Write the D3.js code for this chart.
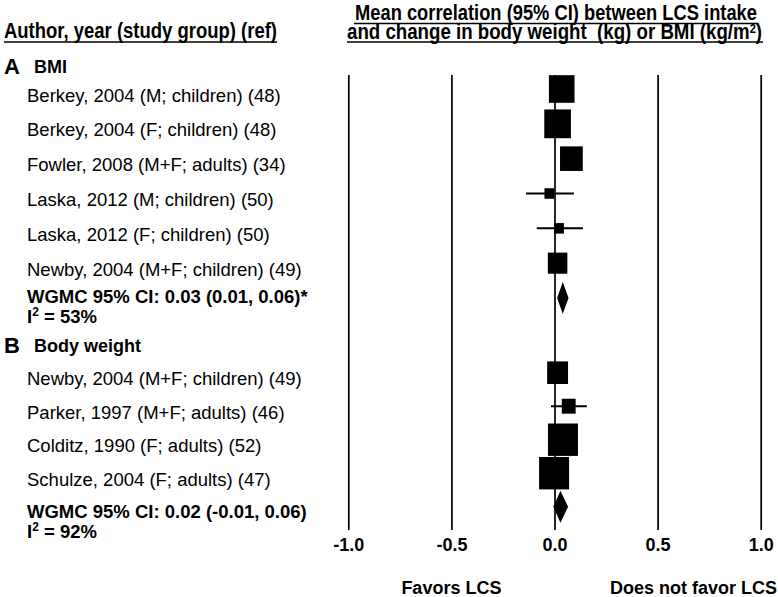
<!DOCTYPE html>
<html>
<head>
<meta charset="utf-8">
<script src="https://cdn.jsdelivr.net/npm/d3@7"></script>
<style>
body { margin:0; background:#fff; }
svg text { font-family: "Liberation Sans", Arial, sans-serif; fill:#000; }
.narrow { font-family: "Liberation Sans Narrow", "Arial Narrow", "Liberation Sans", Arial, sans-serif; font-weight:bold; white-space:pre; }
</style>
</head>
<body>
<svg id="vis" width="778" height="597"></svg>
<script>
// section A: BMI
var studiesA = ["Berkey, 2004 (M; children) (48)", "Berkey, 2004 (F; children) (48)",
  "Fowler, 2008 (M+F; adults) (34)", "Laska, 2012 (M; children) (50)",
  "Laska, 2012 (F; children) (50)", "Newby, 2004 (M+F; children) (49)"];
var meanA = [0.035, 0.015, 0.082, -0.025, 0.022, 0.015];
var lowA  = [0.01, -0.01, 0.05, -0.138, -0.086, -0.01];
var highA = [0.06, 0.04, 0.11, 0.094, 0.138, 0.045];
var weightA = [24, 26, 19, 3.5, 3.5, 14];
var summaryA = [0.013, 0.04, 0.068];
var summaryTextA = "WGMC 95% CI: 0.03 (0.01, 0.06)*";
var i2A = "53%";

// section B: body weight
var studiesB = ["Newby, 2004 (M+F; children) (49)", "Parker, 1997 (M+F; adults) (46)",
  "Colditz, 1990 (F; adults) (52)", "Schulze, 2004 (F; adults) (47)"];
var meanB = [0.015, 0.069, 0.041, -0.002];
var lowB  = [-0.01, -0.017, 0.0, -0.04];
var highB = [0.045, 0.157, 0.08, 0.04];
var weightB = [16, 7, 33, 33];
var summaryB = [-0.006, 0.029, 0.066];
var summaryTextB = "WGMC 95% CI: 0.02 (-0.01, 0.06)";
var i2B = "92%";

var ticks = [-1, -0.5, 0, 0.5, 1];

var svg = d3.select("svg#vis");
var x = d3.scaleLinear().domain([-1, 1]).range([348.3, 760.7]);
var size = d3.scaleSqrt().domain([0, 33]).range([0, 30]);
var plotTop = 75, plotBottom = 530;

// axis with full-height grid lines
var axis = d3.axisBottom(x).tickValues(ticks).tickFormat(function(d) { return d.toFixed(1); })
  .tickSizeInner(-(plotBottom - plotTop)).tickSizeOuter(0).tickPadding(8);
var ax = svg.append("g").attr("transform", "translate(0," + plotBottom + ")").call(axis);
ax.select(".domain").remove();
ax.selectAll(".tick line").attr("stroke", "#000").attr("stroke-width", 1.7);
ax.selectAll(".tick text").attr("y", 21).attr("dy", null)
  .style("font-family", "'Liberation Sans', Arial, sans-serif")
  .style("font-size", "18px").style("font-weight", "bold").attr("fill", "#000");

// headers
svg.append("text").attr("class", "narrow").attr("x", 4).attr("y", 38)
  .attr("textLength", 273).attr("lengthAdjust", "spacingAndGlyphs")
  .style("font-size", "22px").text("Author, year (study group) (ref)");
svg.append("line").attr("x1", 4).attr("x2", 277).attr("y1", 42).attr("y2", 42)
  .attr("stroke", "#000").attr("stroke-width", 1.5);

svg.append("text").attr("class", "narrow").attr("x", 355).attr("y", 19.5)
  .attr("textLength", 402).attr("lengthAdjust", "spacingAndGlyphs")
  .style("font-size", "22px").text("Mean correlation (95% CI) between LCS intake");
svg.append("line").attr("x1", 354).attr("x2", 758).attr("y1", 23.5).attr("y2", 23.5)
  .attr("stroke", "#000").attr("stroke-width", 1.5);
var t2 = svg.append("text").attr("class", "narrow").attr("x", 347).attr("y", 38.5)
  .attr("textLength", 415).attr("lengthAdjust", "spacingAndGlyphs")
  .style("font-size", "22px");
t2.append("tspan").text("and change in body weight  (kg) or BMI (kg/m");
t2.append("tspan").attr("dy", -6).style("font-size", "13px").text("2");
t2.append("tspan").attr("dy", 6).text(")");
svg.append("line").attr("x1", 347).attr("x2", 763).attr("y1", 42).attr("y2", 42)
  .attr("stroke", "#000").attr("stroke-width", 1.5);

function section(letter, title, headY, studies, mean, low, high, weight, summary, sumText, i2, range, sumTextY) {
  svg.append("text").attr("x", 4).attr("y", headY + 8).style("font-size", "22px")
    .style("font-weight", "bold").text(letter);
  svg.append("text").attr("x", 34).attr("y", headY + 6.5).style("font-size", "18px")
    .style("font-weight", "bold").text(title);

  var y = d3.scaleLinear().domain([0, studies.length]).range(range);
  var rows = studies.map(function(s, i) {
    return {label: s, mean: mean[i], low: low[i], high: high[i], w: weight[i], i: i};
  });
  var g = svg.append("g");
  g.selectAll("text.study").data(rows).enter().append("text")
    .attr("class", "study").attr("x", 27).attr("y", function(d) { return y(d.i) + 12.5; })
    .style("font-size", "18.5px").text(function(d) { return d.label; });
  g.selectAll("line.ci").data(rows).enter().append("line")
    .attr("x1", function(d) { return x(d.low); }).attr("x2", function(d) { return x(d.high); })
    .attr("y1", function(d) { return y(d.i); }).attr("y2", function(d) { return y(d.i); })
    .attr("stroke", "#000").attr("stroke-width", 2);
  g.selectAll("rect").data(rows).enter().append("rect")
    .attr("x", function(d) { return x(d.mean) - size(d.w) / 2; })
    .attr("y", function(d) { return y(d.i) - size(d.w) * 0.54; })
    .attr("width", function(d) { return size(d.w); })
    .attr("height", function(d) { return size(d.w) * 1.08; })
    .attr("fill", "#000");

  var sy = y(studies.length);
  var pts = [[x(summary[0]), sy], [x(summary[1]), sy - 16], [x(summary[2]), sy], [x(summary[1]), sy + 16]];
  g.append("path").attr("d", d3.line()(pts) + "Z").attr("fill", "#000");

  svg.append("text").attr("x", 27).attr("y", sumTextY).style("font-size", "18.5px")
    .style("font-weight", "bold").text(sumText);
  var it = svg.append("text").attr("x", 27).attr("y", sumTextY + 20).style("font-size", "18.5px")
    .style("font-weight", "bold");
  it.append("tspan").text("I");
  it.append("tspan").attr("dy", -7).style("font-size", "12px").text("2");
  it.append("tspan").attr("dy", 7).text(" = " + i2);
}

section("A", "BMI", 66, studiesA, meanA, lowA, highA, weightA, summaryA, summaryTextA, i2A, [89, 298], 303);
section("B", "Body weight", 345, studiesB, meanB, lowB, highB, weightB, summaryB, summaryTextB, i2B, [372.7, 506.7], 518);

// direction labels
svg.append("text").attr("x", x(-0.5)).attr("y", 594).attr("text-anchor", "middle")
  .style("font-size", "18px").style("font-weight", "bold").text("Favors LCS");
svg.append("text").attr("x", 777).attr("y", 594).attr("text-anchor", "end")
  .style("font-size", "18px").style("font-weight", "bold").text("Does not favor LCS");
</script>
</body>
</html>
